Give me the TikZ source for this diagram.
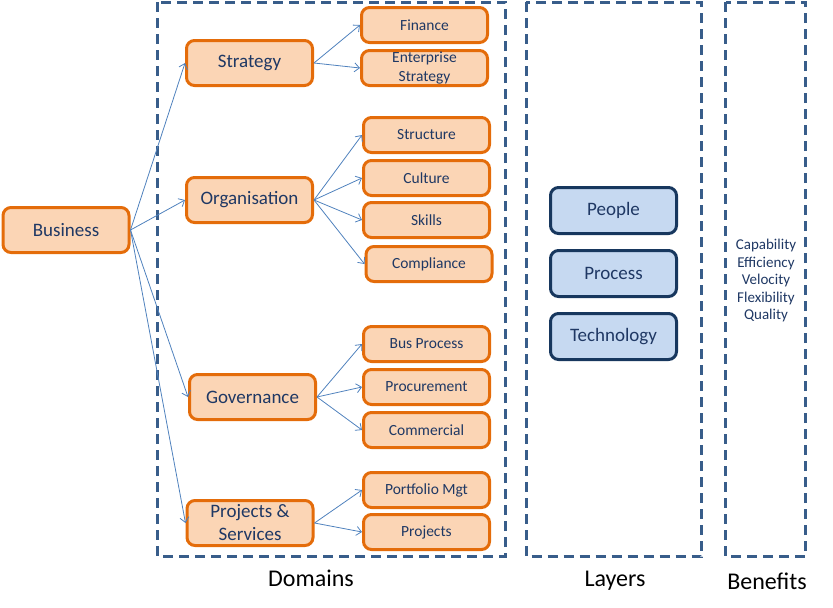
\documentclass[tikz,border=0pt]{standalone}
\usepackage{fontspec}
\setmainfont{Carlito}
\usetikzlibrary{arrows.meta}

\definecolor{navy}{RGB}{31,56,100}
\definecolor{frameblue}{RGB}{56,93,138}
\definecolor{linkblue}{RGB}{79,129,189}
\definecolor{orangeline}{RGB}{228,108,10}
\definecolor{orangefill}{RGB}{251,213,181}
\definecolor{layerfill}{RGB}{198,217,241}
\definecolor{layerline}{RGB}{23,55,94}

\tikzset{
  domainbox/.style={draw=orangeline, fill=orangefill, line width=3pt, rounded corners=8pt,
    minimum width=126pt, minimum height=45pt, inner sep=0pt, text=navy, align=center,
    font=\fontsize{19}{23}\selectfont},
  subbox/.style={domainbox, minimum height=35pt, font=\fontsize{15.5}{19}\selectfont},
  layerbox/.style={draw=layerline, fill=layerfill, line width=3pt, rounded corners=8pt,
    minimum width=126pt, minimum height=46pt, inner sep=0pt, text=navy,
    font=\fontsize{19}{23}\selectfont},
  dashframe/.style={draw=frameblue, line width=3pt, dash pattern=on 10pt off 6pt},
  linkarrow/.style={draw=linkblue, line width=0.8pt, -{Straight Barb[length=5pt,width=9pt]}},
  caption/.style={font=\fontsize{24}{28}\selectfont},
}

\begin{document}
\begin{tikzpicture}[x=1pt,y=-1pt]
        \useasboundingbox (0,0) rectangle (833,608);

          % dashed frames
          \draw[dashframe] (157.5,2) rectangle (505.5,556.5);
          \draw[dashframe] (526,2) rectangle (701.5,556.5);
          \draw[dashframe] (725.5,2) rectangle (805.5,556.5);

          \node[caption] (domainscap) at (311,578) {Domains};
          \node[caption] (layerscap) at (615,581) {Layers};
          \node[caption] (benefitscap) at (767,581) {Benefits};

          % root and domains
          \node[domainbox] (business) at (66,230) {Business};
          \node[domainbox] (strategy) at (249.5,63) {Strategy};
          \node[domainbox] (organisation) at (249.5,200) {Organisation};
          \node[domainbox] (governance) at (252.5,397) {Governance};
          \node[domainbox] (projserv) at (250,523) {Projects \&\\Services};

          % sub domains
          \node[subbox] (finance) at (424.5,25) {Finance};
          \node[subbox] (enterprise) at (424.5,68) {Enterprise\\Strategy};
          \node[subbox] (structure) at (426.5,135) {Structure};
          \node[subbox] (culture) at (426.5,178) {Culture};
          \node[subbox] (skills) at (426.5,220) {Skills};
          \node[subbox] (compliance) at (429,264) {Compliance};
          \node[subbox] (busprocess) at (426.5,344) {Bus Process};
          \node[subbox] (procurement) at (426.5,387) {Procurement};
          \node[subbox] (commercial) at (426.5,430) {Commercial};
          \node[subbox] (portfolio) at (426.5,490) {Portfolio Mgt};
          \node[subbox] (projects) at (426.5,532) {Projects};

          % layers
          \node[layerbox] (people) at (613.5,210.5) {People};
          \node[layerbox] (process) at (613.5,273.5) {Process};
          \node[layerbox] (technology) at (613.5,336.5) {Technology};

          % benefits
          \node[text=navy, align=center, font=\fontsize{15}{17.5}\selectfont] (benefitlist)
            at (766,280.5) {Capability\\Efficiency\\Velocity\\Flexibility\\Quality};

          \foreach \dom in {strategy,organisation,governance,projserv}{
            \draw[linkarrow] (business.east) -- (\dom.west);
          }
          \foreach \kid in {finance,enterprise}{
            \draw[linkarrow] (strategy.east) -- (\kid.west);
          }
          \foreach \kid in {structure,culture,skills,compliance}{
            \draw[linkarrow] (organisation.east) -- (\kid.west);
          }
          \foreach \kid in {busprocess,procurement,commercial}{
            \draw[linkarrow] (governance.east) -- (\kid.west);
          }
          \foreach \kid in {portfolio,projects}{
            \draw[linkarrow] (projserv.east) -- (\kid.west);
          }
        \end{tikzpicture}
\end{document}
